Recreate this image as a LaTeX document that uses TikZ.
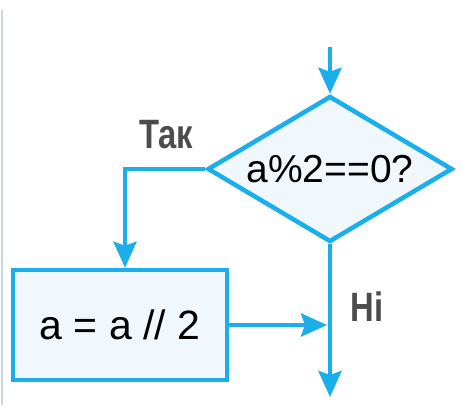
\documentclass[tikz,border=0pt]{standalone}
\usepackage{fontspec}
\setmainfont{Liberation Sans}
\newfontfamily\labelfont[FakeStretch=0.8]{Liberation Sans}
\usepackage{tikz}
\usetikzlibrary{shapes.geometric,arrows.meta,positioning}
\definecolor{flowline}{HTML}{1AAEEA}
\definecolor{flowfill}{HTML}{F1F8FD}
\definecolor{labelgray}{HTML}{4C4C4C}
\definecolor{edgegray}{HTML}{CBD5E6}

\tikzset{
  flowarrow/.style={-{Stealth[length=26pt,width=23pt,inset=4pt]}, flowline, line width=4.5pt},
  decision/.style={diamond, aspect=1.68, draw=flowline, fill=flowfill, line width=4.5pt, inner sep=0pt,
    minimum width=245pt, minimum height=146pt, font=\fontsize{39}{44}\selectfont},
  process/.style={rectangle, draw=flowline, fill=flowfill, line width=4.5pt,
    minimum width=214pt, minimum height=110pt, font=\fontsize{41}{46}\selectfont},
  branchlabel/.style={text=labelgray, font=\labelfont\bfseries\fontsize{41}{46}\selectfont}
}

\begin{document}
\begin{tikzpicture}[x=1pt, y=-1pt]
  \useasboundingbox (0,0) rectangle (463,411);
  % page edge
  \draw[edgegray, line width=2pt] (2,10) -- (2,405);

  \node[decision] (check) at (330,169) {a\%2==0?};
  \node[process] (halve) at (120,325) {a = a // 2};
  \coordinate (entry) at (330,47);
  \coordinate (exit) at (330,397);

  \draw[flowarrow] (entry) -- (check.north);
  \draw[flowarrow] (check.west) -| ([xshift=5pt]halve.north);
  \draw[flowarrow] (check.south) -- (exit);
  \draw[flowarrow, shorten >=3pt] (halve.east) -- (halve.east -| check.south);

  \node[branchlabel] (yes) at (166,135) {Так};
  \node[branchlabel] (no) at (367,307) {Ні};
\end{tikzpicture}
\end{document}
